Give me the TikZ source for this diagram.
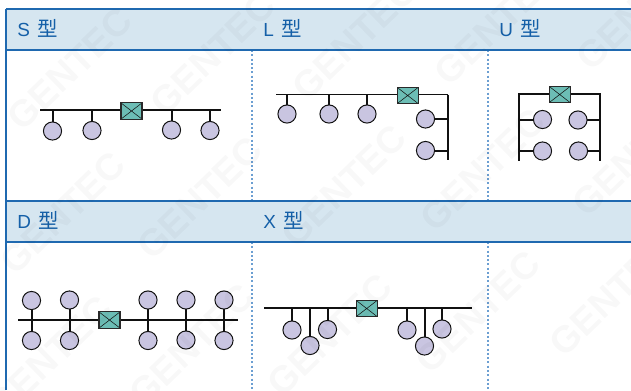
\documentclass[tikz,border=0pt]{standalone}
\usepackage{fontspec}
\setmainfont{Liberation Sans}
\newfontfamily\cjkfont{Noto Sans CJK SC}[Scale=1.08]
\newfontfamily\wmfont{Liberation Sans Bold}
\definecolor{hdr}{HTML}{D6E6F0}
\definecolor{edgeblue}{HTML}{1F69B0}
\definecolor{dotblue}{HTML}{6C9FD2}
\definecolor{textblue}{HTML}{1560A8}
\definecolor{stationfill}{HTML}{C9C5E1}
\definecolor{switchfill}{HTML}{6CBDB5}
\definecolor{linkdark}{HTML}{111111}
\newcommand{\hdrtext}[1]{#1\hspace{5.6pt}{\cjkfont 型}}
\tikzset{
  station/.style={circle,draw=linkdark,line width=0.75pt,fill=stationfill,minimum size=13.6pt,inner sep=0pt,outer sep=0pt},
  switchbox/.style={rectangle,draw=linkdark!90,line width=0.85pt,fill=switchfill,minimum width=15.8pt,minimum height=12.2pt,inner sep=0pt,outer sep=0pt,
    path picture={\draw[linkdark,line width=0.4pt] (path picture bounding box.north west)--(path picture bounding box.south east) (path picture bounding box.north east)--(path picture bounding box.south west);}},
  buswire/.style={draw=linkdark,line width=1.3pt},
  stub/.style={draw=linkdark,line width=1.5pt},
  header/.style={anchor=base west,text=textblue,font=\fontsize{14.2pt}{16pt}\selectfont,inner sep=0pt},
  headerband/.style={fill=hdr,draw=none},
  borderline/.style={draw=edgeblue,line width=1.1pt},
  dotline/.style={draw=dotblue,line width=1.1pt,dash pattern=on 1.5pt off 1.7pt},
  watermark/.style={rotate=44,text=black,text opacity=0.028,font=\wmfont\fontsize{28pt}{31pt}\selectfont,inner sep=0pt}
}
\begin{document}
\begin{tikzpicture}[x=0.75pt,y=-0.75pt]
\useasboundingbox[fill=white] (0,0) rectangle (631,390);
% bands
\path[headerband] (6,9) rectangle (631,50);
\path[headerband] (6,201) rectangle (631,242);
\coordinate (tl) at (6,9); \coordinate (tr) at (631,9);
\coordinate (h1l) at (6,50); \coordinate (h1r) at (631,50);
\coordinate (t2l) at (6,201); \coordinate (t2r) at (631,201);
\coordinate (h2l) at (6,242); \coordinate (h2r) at (631,242);
\coordinate (bl) at (6,390);
\draw[dotline] (252,50)--(252,201) (252,242)--(252,390) (488,50)--(488,201) (488,242)--(488,390);
\draw[borderline] (tl)--(tr) (h1l)--(h1r) (t2l)--(t2r) (h2l)--(h2r) (tl)--(bl);
% headers
\node[header] (hs) at (17,36) {\hdrtext{S}};
\node[header] (hl) at (263,36) {\hdrtext{L}};
\node[header] (hu) at (499,36) {\hdrtext{U}};
\node[header] (hd) at (17,228) {\hdrtext{D}};
\node[header] (hx) at (263,228) {\hdrtext{X}};
% S
\coordinate (sa) at (40,110); \coordinate (sb) at (221,110);
\draw[buswire] (sa)--(sb);
\node[switchbox] (ssw) at (131.5,111) {};
\foreach \n/\x/\y in {s1/52.5/131,s2/92/130.5,s3/171.5/130,s4/210/130.5}{
  \node[station] (\n) at (\x,\y) {};
  \draw[stub] (\n) -- (\n |- sa);
}
% L
\coordinate (la) at (276,94.5); \coordinate (lb) at (448,94.5); \coordinate (lc) at (448,160);
\draw[buswire] (la)--(lb);
\draw[stub] (lb)--(lc);
\node[switchbox] (lsw) at (407.7,95.5) {};
\foreach \n/\x/\y in {l1/287/114,l2/329/114,l3/367/114}{
  \node[station] (\n) at (\x,\y) {};
  \draw[stub] (\n) -- (\n |- la);
}
\foreach \n/\x/\y in {l4/425.5/119,l5/425.5/150.5}{
  \node[station] (\n) at (\x,\y) {};
  \draw[stub] (\n) -- (\n -| lb);
}
% U
\coordinate (ua) at (519,93.5); \coordinate (ub) at (600,93.5);
\coordinate (uc) at (519,160.5); \coordinate (ud) at (600,160.5);
\draw[stub] (uc)--(ua)--(ub)--(ud);
\node[switchbox] (usw) at (559.7,94.5) {};
\foreach \n/\x/\y in {u1/542.5/119.5,u3/542.5/151}{
  \node[station] (\n) at (\x,\y) {};
  \draw[stub] (\n) -- (\n -| ua);
}
\foreach \n/\x/\y in {u2/578/120,u4/578.5/151}{
  \node[station] (\n) at (\x,\y) {};
  \draw[stub] (\n) -- (\n -| ub);
}
% D
\coordinate (da) at (18,319.7); \coordinate (db) at (238,319.7);
\draw[buswire] (da)--(db);
\node[switchbox] (dsw) at (109.5,320) {};
\foreach \n/\x/\y/\m/\v in {d1/31.5/300.5/e1/340.5,d2/69.5/300/e2/340.5,d3/148/300/e3/340.5,d4/186/300/e4/340,d5/224/300/e5/340.5}{
  \node[station] (\n) at (\x,\y) {};
  \node[station] (\m) at (\x,\v) {};
  \draw[stub] (\n) -- (\m);
}
% X
\coordinate (xa) at (264,308); \coordinate (xb) at (472,308);
\draw[buswire] (xa)--(xb);
\node[switchbox] (xsw) at (366.7,308.5) {};
\foreach \n/\x/\y in {x1/292/330,x2/310/345.5,x3/327.5/329.5,x4/407/330,x5/424.5/346,x6/442/329}{
  \node[station] (\n) at (\x,\y) {};
  \draw[stub] (\n) -- (\n |- xa);
}
% watermark
\begin{scope}
\clip (0,0) rectangle (631,390);
\foreach \x/\y in {70/69,213/54,355/39,497/24,639/9,
                   63/213,200/198,344/186,483/170,635/155,
                   50/357,192/345,330/335,478/312,612/295}{
  \node[watermark] at (\x,\y) {GENTEC};
}
\end{scope}
\end{tikzpicture}
\end{document}
